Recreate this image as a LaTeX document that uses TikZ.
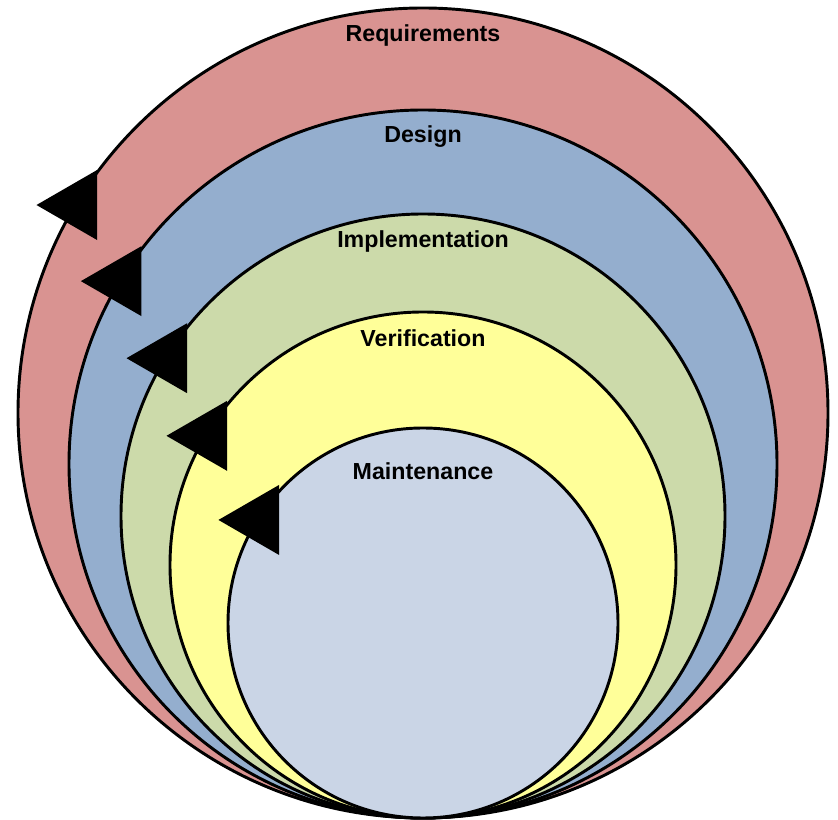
\documentclass[tikz,border=0pt]{standalone}
\usepackage{fontspec}
\setmainfont{Liberation Sans}
\usepackage{tikz}
\usetikzlibrary{calc}
\definecolor{cReqFill}{HTML}{D99391}
\definecolor{cDesFill}{HTML}{94AECE}
\definecolor{cImpFill}{HTML}{CCDAAA}
\definecolor{cVerFill}{HTML}{FFFF99}
\definecolor{cMntFill}{HTML}{CAD5E6}

\begin{document}
\begin{tikzpicture}[x=0.75pt, y=0.75pt,
  ring/.style={draw=black, line width=2.2pt},
  phase/.style={font=\fontsize{17.4}{20}\selectfont\bfseries, text=black, inner sep=0pt},
  tipmark/.style={fill=black}
]
\useasboundingbox (0,0) rectangle (838,820);
% nested phases, all touching at the bottom point
\foreach \r/\fc/\lbl/\dy/\ang [count=\i] in {405/cReqFill/Requirements/28/149.1,
    354/cDesFill/Design/27/148.9, 302/cImpFill/Implementation/28/148.5,
    253/cVerFill/Verification/26/149.3, 195/cMntFill/Maintenance/43/148.1}{
  \coordinate (c\i) at (423,{2+\r});
  \draw[ring, fill=\fc] (c\i) circle (\r);
  \node[phase] (lbl\i) at (423,{2+2*\r-\dy}) {\lbl};
  % arrow head sitting on the ring
  \coordinate (t\i) at ($(c\i)+(\ang:\r)$);
  \fill[tipmark] (t\i) ++(-39,0) -- ++(60.6,35) -- ++(0,-70) -- cycle;
}
\end{tikzpicture}
\end{document}
